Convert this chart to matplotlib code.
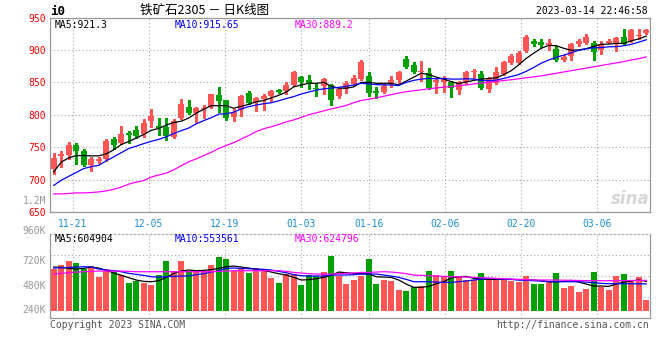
import matplotlib
matplotlib.use("Agg")
import matplotlib.pyplot as plt
import numpy as np

# ---------------- data ----------------
DATES = ["11-16", "11-17", "11-18",
         "11-21", "11-22", "11-23", "11-24", "11-25",
         "11-28", "11-29", "11-30", "12-01", "12-02",
         "12-05", "12-06", "12-07", "12-08", "12-09",
         "12-12", "12-13", "12-14", "12-15", "12-16",
         "12-19", "12-20", "12-21", "12-22", "12-23",
         "12-26", "12-27", "12-28", "12-29", "12-30",
         "01-03", "01-04", "01-05", "01-06",
         "01-09", "01-10", "01-11", "01-12", "01-13",
         "01-16", "01-17", "01-18", "01-19", "01-20",
         "01-30", "01-31", "02-01", "02-02", "02-03",
         "02-06", "02-07", "02-08", "02-09", "02-10",
         "02-13", "02-14", "02-15", "02-16", "02-17",
         "02-20", "02-21", "02-22", "02-23", "02-24",
         "02-27", "02-28", "03-01", "03-02", "03-03",
         "03-06", "03-07", "03-08", "03-09", "03-10",
         "03-13", "03-14", "03-15"]

TICK_DATES = ["11-21", "12-05", "12-19", "01-03", "01-16", "02-06", "02-20", "03-06"]

OPEN = [716.5, 737.0, 738.0, 753.6, 743.8, 723.0, 729.0, 731.0, 761.9, 756.2,
        771.6, 775.8, 769.6, 789.7, 783.0, 780.5, 765.8, 794.7, 812.5, 802.5,
        808.5, 811.5, 831.0, 822.5, 795.8, 807.5, 834.0, 820.0, 824.5, 828.6,
        838.3, 836.0, 846.0, 858.7, 853.6, 841.8, 845.0, 846.0, 829.6, 839.8,
        848.0, 855.0, 860.0, 837.2, 835.7, 847.0, 854.0, 885.7, 877.0, 865.3,
        864.5, 850.0, 850.0, 851.0, 838.8, 850.5, 865.5, 862.8, 840.0, 849.0,
        863.5, 879.3, 879.3, 898.5, 913.8, 912.2, 907.6, 901.0, 884.7, 890.8,
        908.7, 911.2, 910.2, 900.0, 911.2, 911.2, 920.4, 913.8, 921.5, 925.5]
HIGH = [740.7, 743.8, 757.7, 756.0, 747.4, 734.5, 735.0, 761.9, 765.5, 782.0,
        774.7, 782.0, 793.8, 809.3, 794.7, 794.7, 793.7, 825.0, 823.5, 812.5,
        815.0, 832.5, 843.5, 823.5, 808.5, 830.5, 836.0, 827.5, 832.0, 838.8,
        839.8, 850.0, 866.8, 860.0, 861.0, 849.0, 856.6, 847.4, 840.8, 852.5,
        861.0, 884.0, 865.3, 842.3, 847.4, 860.0, 867.9, 890.8, 880.6, 883.0,
        871.4, 856.0, 860.0, 852.5, 852.5, 867.0, 870.5, 867.9, 858.5, 873.0,
        883.2, 893.4, 898.5, 922.7, 917.3, 917.3, 916.3, 906.1, 891.8, 911.2,
        916.3, 924.0, 913.8, 913.8, 916.3, 920.4, 933.0, 932.0, 933.0, 933.0]
LOW = [708.8, 720.0, 732.0, 724.0, 721.6, 713.0, 726.0, 729.4, 747.4, 755.0,
       756.0, 764.0, 765.5, 781.0, 768.4, 760.5, 764.7, 793.0, 801.0, 788.0,
       794.7, 810.0, 805.0, 792.0, 790.0, 797.4, 816.0, 806.5, 806.6, 819.4,
       833.0, 832.0, 844.0, 842.3, 839.8, 829.6, 832.0, 815.5, 826.0, 833.7,
       846.4, 853.6, 828.6, 825.5, 833.7, 842.3, 848.5, 871.4, 863.8, 852.5,
       839.8, 833.7, 834.7, 827.0, 832.0, 848.0, 856.0, 839.8, 835.0, 847.4,
       861.2, 878.0, 878.0, 897.0, 906.1, 905.0, 900.0, 883.2, 883.2, 884.7,
       906.1, 908.7, 884.7, 893.4, 910.2, 898.5, 907.0, 912.0, 916.3, 924.0]
CLOSE = [733.5, 739.7, 753.6, 744.8, 723.0, 732.0, 732.0, 758.8, 754.0, 770.6,
         768.5, 766.5, 787.6, 797.4, 779.5, 766.8, 791.0, 816.0, 802.5, 810.0,
         810.0, 831.5, 821.0, 794.7, 805.0, 829.0, 817.5, 826.5, 829.6, 837.0,
         835.7, 846.0, 865.3, 850.0, 847.4, 840.3, 855.0, 823.0, 839.8, 849.5,
         856.6, 881.8, 833.0, 833.7, 845.0, 853.8, 866.3, 873.5, 866.3, 867.3,
         841.0, 853.6, 855.0, 840.8, 850.0, 865.3, 866.5, 840.8, 856.3, 866.3,
         881.6, 890.8, 895.5, 920.2, 908.7, 907.0, 910.5, 885.0, 889.8, 908.7,
         913.8, 920.4, 897.0, 908.7, 913.8, 918.9, 908.7, 930.6, 922.5, 931.0]

MA5 = [712, 727, 733.5, 737, 737, 736.6, 736.6, 739.7, 746, 754,
       758.8, 764, 769.6, 776, 779, 784, 788, 790, 795, 802.5,
       808.5, 814, 814, 814, 810, 813, 816, 820, 822, 826,
       830, 835, 843, 846, 848.5, 848.5, 850, 844, 841, 841,
       843, 850, 850, 848.5, 848.5, 848.5, 846, 852, 858, 864,
       862, 858, 855, 851, 848, 850.5, 853, 855, 856, 857,
       862, 868, 877, 887, 895, 902.5, 907, 906.5, 902.5, 899.5,
       900, 902, 905.6, 908.7, 909, 910, 910, 914, 917, 921.3]
MA10 = [691, 699, 705, 711, 717, 720, 722, 729, 735, 741.5,
        748, 751.5, 755.5, 759, 762, 766, 771, 775.5, 779.5, 786,
        791, 795.5, 801, 801.5, 804, 809, 812.5, 815, 817, 818.5,
        821.5, 825, 828, 832, 835, 838, 840, 841, 842.3, 844,
        846, 848.5, 847.5, 846.5, 846, 846, 845, 850, 853, 855,
        856, 855.5, 856, 855, 855, 855.5, 855, 853, 852.5, 853.5,
        856, 859, 862, 867, 873, 879.5, 884.5, 888.5, 892, 895.6,
        899.5, 901.5, 903.5, 903.6, 904.8, 905, 906.5, 908.5, 912, 915.65]
MA30 = [678, 678, 678.5, 679.5, 679.5, 680, 681, 682.5, 685, 688.5,
        693, 696, 698.5, 704, 707, 710, 715, 721.5, 727.5, 732,
        737, 742, 748, 752.5, 757, 762.5, 768, 774, 778.5, 781.5,
        785, 789, 792, 796, 800, 803, 806, 809, 811.5, 814.5,
        818.5, 822, 824, 826, 828.5, 831, 833.5, 835.5, 837, 838.5,
        840, 841.3, 842.5, 843.5, 844.8, 846, 847.5, 849, 850, 851.5,
        852.8, 854, 855.5, 857, 858.5, 860, 862, 864, 866, 868,
        870, 872, 874, 876, 878, 880, 882, 884.5, 886.5, 889.2]

# volume in thousands of lots
VOLUME = [859, 941, 1024, 989, 859, 921, 700, 859, 803, 735,
          577, 612, 577, 529, 735, 1024, 818, 1024, 818, 818,
          818, 941, 1112, 1071, 818, 859, 783, 886, 838, 680,
          577, 756, 756, 529, 735, 715, 803, 1127, 715, 550,
          632, 715, 1065, 550, 632, 612, 426, 406, 482, 509,
          818, 735, 700, 818, 715, 632, 632, 783, 632, 653,
          653, 612, 597, 715, 550, 550, 597, 783, 474, 515,
          391, 447, 803, 494, 426, 715, 756, 632, 688, 220]
VMA5 = [899, 892, 872, 858, 872, 899, 879, 831, 776, 728,
        680, 632, 604, 597, 618, 687, 769, 817, 838, 824,
        831, 845, 872, 906, 920, 899, 879, 851, 831, 796,
        762, 735, 687, 632, 639, 659, 687, 728, 796, 782,
        769, 762, 755, 700, 693, 687, 632, 549, 481, 481,
        501, 556, 597, 673, 700, 707, 666, 652, 645, 645,
        645, 645, 639, 632, 632, 618, 597, 597, 604, 625,
        590, 549, 508, 508, 501, 549, 590, 611, 632, 604.904]
VMA10 = [879, 886, 892, 899, 906, 899, 858, 838, 824, 803,
         769, 748, 728, 700, 693, 700, 707, 714, 714, 742,
         762, 796, 824, 872, 879, 872, 865, 858, 851, 838,
         810, 782, 742, 721, 714, 714, 714, 735, 735, 735,
         742, 755, 755, 755, 735, 714, 687, 645, 597, 597,
         597, 590, 583, 583, 597, 611, 632, 652, 666, 659,
         652, 645, 632, 625, 618, 611, 597, 597, 597, 597,
         597, 590, 577, 563, 556, 556, 556, 556, 553, 553.561]
VMA30 = [755, 769, 782, 796, 803, 810, 817, 817, 817, 817,
         810, 803, 803, 803, 803, 803, 803, 803, 803, 803,
         803, 803, 810, 817, 824, 824, 824, 824, 824, 824,
         824, 810, 789, 776, 762, 755, 755, 755, 762, 769,
         776, 789, 789, 796, 803, 796, 782, 762, 735, 728,
         721, 714, 707, 700, 700, 693, 687, 680, 673, 666,
         659, 652, 645, 639, 632, 632, 632, 632, 628, 625,
         622, 620, 618, 618, 618, 618, 620, 622, 624, 624.796]

PRICE_TICKS = [650, 700, 750, 800, 850, 900, 950]
VOL_LABELS = ["1.2M", "960K", "720K", "480K", "240K"]
PRICE_LEGEND = ["MA5:921.3", "MA10:915.65", "MA30:889.2"]
VOL_LEGEND = ["MA5:604904", "MA10:553561", "MA30:624796"]
TITLE = "铁矿石2305 － 日K线图"
SYMBOL = "i0"
STAMP = "2023-03-14 22:46:58"

# ---------------- style ----------------
W, H = 660, 360
RED = "#ff5555"
GREEN = "#00a000"
FRAME = "#999999"
GRIDC = "#aaaaaa"
DOT = (0, (1, 2.2))
MONO = "DejaVu Sans Mono"
MA_COLORS = ["#000000", "#0000ff", "#ff00ff"]

fig = plt.figure(figsize=(W / 100, H / 100), dpi=100)
fig.patch.set_facecolor("white")


def rect(x0, y0, x1, y1):
    return [x0 / W, 1 - y1 / H, (x1 - x0) / W, (y1 - y0) / H]


def ftext(x, y, s, **kw):
    kw.setdefault("va", "center")
    fig.text(x / W, 1 - y / H, s, **kw)


N = len(DATES)
x = np.arange(N)
tick_idx = [DATES.index(d) for d in TICK_DATES]
# Sina spreads the date grid over N-1 intervals while candles use N slots
tick_pos = [i * N / (N - 1) - 0.5 for i in tick_idx]

# ---------------- price panel ----------------
ax = fig.add_axes(rect(50, 17.5, 650, 212))
ax.set_xlim(-0.5, N - 0.5)
ax.set_ylim(PRICE_TICKS[0], PRICE_TICKS[-1])

o = np.array(OPEN); c = np.array(CLOSE)
up = c >= o
colors = np.where(up, RED, GREEN)
ax.vlines(x, LOW, HIGH, colors=colors, linewidth=0.75, zorder=3, antialiased=False)
body_bottom = np.minimum(o, c)
body_h = np.maximum(np.abs(c - o), 1.3)
ax.bar(x, body_h, bottom=body_bottom, width=0.8, color=colors, linewidth=0,
       zorder=4, antialiased=False)

for ma, col in zip([MA5, MA10, MA30], MA_COLORS):
    ax.plot(x, ma, color=col, linewidth=0.9, zorder=5)

ax.set_yticks(PRICE_TICKS)
ax.set_yticklabels([str(t) for t in PRICE_TICKS], color="#ff0000",
                   fontsize=7, family=MONO)
ax.set_xticks(tick_pos)
ax.set_xticklabels(TICK_DATES, color="#1e8fd6", fontsize=7, family=MONO)
ax.tick_params(axis="both", length=0)
ax.tick_params(axis="y", pad=3)
ax.tick_params(axis="x", pad=5)
ax.grid(True, color=GRIDC, linestyle=DOT, linewidth=0.8, zorder=0)
ax.set_axisbelow(True)
for s in ax.spines.values():
    s.set_color(FRAME)
    s.set_linewidth(0.9)

# watermark
ftext(650, 199, "sina", ha="right", fontsize=12, fontstyle="italic",
      fontweight="bold", color="#d6d6d6", family="DejaVu Sans")

# ---------------- volume panel ----------------
VOL_TOP_PX, VOL_BOT_PX, VOL_BASE_PX = 234.3, 318.3, 310.7
K_PER_PX = 20.6
axv = fig.add_axes(rect(50, VOL_TOP_PX, 650, VOL_BOT_PX))
axv.set_xlim(-0.5, N - 0.5)
ylo = -(VOL_BOT_PX - VOL_BASE_PX) * K_PER_PX
yhi = (VOL_BASE_PX - VOL_TOP_PX) * K_PER_PX
axv.set_ylim(ylo, yhi)
axv.bar(x, VOLUME, width=0.8, color=colors, linewidth=0, zorder=3,
        antialiased=False)
for ma, col in zip([VMA5, VMA10, VMA30], MA_COLORS):
    axv.plot(x, ma, color=col, linewidth=0.9, zorder=5)
axv.set_xticks(tick_pos)
axv.set_xticklabels([])
axv.set_yticks([ylo + f * (yhi - ylo) for f in (0.25, 0.5, 0.75)])
axv.set_yticklabels([])
axv.tick_params(axis="both", length=0)
axv.grid(True, color=GRIDC, linestyle=DOT, linewidth=0.8, zorder=0)
axv.set_axisbelow(True)
for s in axv.spines.values():
    s.set_color(FRAME)
    s.set_linewidth(0.9)
axv.spines["top"].set_linestyle(DOT)
axv.spines["top"].set_color(GRIDC)

# ---------------- texts ----------------
ftext(50, 11.5, SYMBOL, ha="left", fontsize=9, fontweight="bold", family=MONO)
ftext(140, 10.5, TITLE, ha="left", fontsize=9,
      family=["Noto Sans CJK SC", "DejaVu Sans"])
ftext(648, 11.5, STAMP, ha="right", fontsize=7, family=MONO)

for s, xp, col in zip(PRICE_LEGEND, [55, 175, 295], MA_COLORS):
    ftext(xp, 24.5, s, ha="left", fontsize=7, family=MONO, color=col)
for s, xp, col in zip(VOL_LEGEND, [55, 175, 295], MA_COLORS):
    ftext(xp, 239, s, ha="left", fontsize=7, family=MONO, color=col)

for s, yp in zip(VOL_LABELS, [201, 230.7, 261, 286, 310]):
    ftext(46, yp, s, ha="right", fontsize=7, family=MONO, color="#999999")

ftext(50, 324.5, "Copyright 2023 SINA.COM", ha="left", fontsize=7,
      family=MONO, color="#555555")
ftext(649, 324.5, "http://finance.sina.com.cn", ha="right", fontsize=7,
      family=MONO, color="#555555")

fig.savefig("out.png", dpi=100, facecolor="white")
